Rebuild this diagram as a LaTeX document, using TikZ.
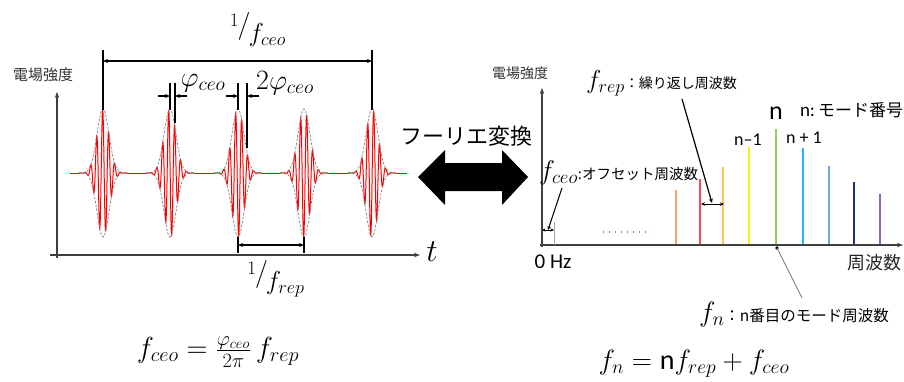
\RequirePackage{fix-cm}
\documentclass[tikz,border=0pt]{standalone}
\usepackage{fontspec}
\setsansfont{Carlito}
\newfontfamily\jp{Noto Sans CJK JP}
\usetikzlibrary{arrows.meta}
\newcommand{\slfrac}[3]{\raisebox{7pt}{\fontsize{19}{19}\selectfont$1$}\hspace{-1pt}{\fontsize{28}{28}\selectfont$/$}\hspace{-2pt}\raisebox{-8pt}{\fontsize{#3}{#3}\selectfont$#2$}}
\begin{document}
\begin{tikzpicture}[x=1pt,y=-1pt,
  dim/.style={line width=1.3pt, draw=black},
  dimarr/.style={dim, {Stealth[length=5pt,width=4pt]}-{Stealth[length=5pt,width=4pt]}},
  onearr/.style={dim, -{Stealth[length=5pt,width=4pt]}},
  axisline/.style={line width=1.4pt, draw=black!75, -{Stealth[length=6pt,width=4.5pt]}},
  comb/.style={line width=1.8pt},
  lbl/.style={inner sep=0pt, outer sep=0pt},
  jptxt/.style={lbl, font=\jp\fontsize{#1}{#1}\selectfont},
  sftxt/.style={lbl, font=\sffamily\fontsize{#1}{#1}\selectfont},
  mtxt/.style={lbl, font=\fontsize{#1}{#1}\selectfont}
]
\useasboundingbox (0,0) rectangle (904,381);

% ---------- left panel: time domain ----------
\coordinate (ly0) at (57,258);
\coordinate (ly1) at (57,92);
\coordinate (lx0) at (50,255);
\coordinate (lx1) at (420,255);
\draw[axisline] (ly0) -- (ly1);
\draw[axisline] (lx0) -- (lx1);
\node[mtxt=32] (tlab) at (432,252) {$t$};
\node[jptxt=15, text=black!80] (efield1) at (43,75) {電場強度};

% baseline of the pulse train
\coordinate (rb0) at (70,173);
\coordinate (rb1) at (407,173);
\draw[red, line width=0.8pt] (rb0) -- (rb1);

\foreach \c/\ph in {103/20,170/80,238/140,304/200,372/260} {
  \pgfmathsetmacro\da{\c-24}
  \pgfmathsetmacro\db{\c+24}
  \fill[white] (\da,171) rectangle (\db,175);
  \draw[red, line width=1pt] plot[domain=\da:\db, samples=260]
     (\x, {173 - 64*exp((0-(\x-\c)*(\x-\c))/72)*cos(360*(\x-\c)/6 + \ph)});
  \draw[gray, dashed, dash pattern=on 2.5pt off 1.5pt, line width=0.7pt] plot[domain=\da:\db, samples=80]
     (\x, {173 - 64*exp((0-(\x-\c)*(\x-\c))/72)});
  \draw[gray, dashed, dash pattern=on 2.5pt off 1.5pt, line width=0.7pt] plot[domain=\da:\db, samples=80]
     (\x, {173 + 64*exp((0-(\x-\c)*(\x-\c))/72)});
}

% 1/f_ceo dimension
\coordinate (c1t) at (103,50);  \coordinate (c1b) at (103,110);
\coordinate (c5t) at (372,50);  \coordinate (c5b) at (372,110);
\coordinate (c1m) at (103,61);  \coordinate (c5m) at (372,61);
\draw[dim] (c1t) -- (c1b);
\draw[dim] (c5t) -- (c5b);
\draw[dimarr] (c1m) -- (c5m);
\node[lbl] (fceolab) at (258,30) {\slfrac{1}{f_{ceo}}{26}};

% phi_ceo
\coordinate (q1t) at (170,83); \coordinate (q1b) at (170,110);
\coordinate (q2t) at (175,83); \coordinate (q2b) at (175,123);
\draw[dim] (q1t) -- (q1b);
\draw[dim] (q2t) -- (q2b);
\coordinate (q1a) at (158,96); \coordinate (q1e) at (170,96);
\coordinate (q2a) at (187,96); \coordinate (q2e) at (175,96);
\draw[onearr] (q1a) -- (q1e);
\draw[onearr] (q2a) -- (q2e);
\node[mtxt=28] (philab) at (203,83) {$\varphi_{ceo}$};

% 2 phi_ceo
\coordinate (r1t) at (238,83); \coordinate (r1b) at (238,110);
\coordinate (r2t) at (247,83); \coordinate (r2b) at (247,148);
\draw[dim] (r1t) -- (r1b);
\draw[dim] (r2t) -- (r2b);
\coordinate (r1a) at (226,96); \coordinate (r1e) at (238,96);
\coordinate (r2a) at (259,96); \coordinate (r2e) at (247,96);
\draw[onearr] (r1a) -- (r1e);
\draw[onearr] (r2a) -- (r2e);
\node[mtxt=28] (phi2lab) at (285,83) {$2\varphi_{ceo}$};

% 1/f_rep
\coordinate (s1t) at (238,237); \coordinate (s1b) at (238,253);
\coordinate (s2t) at (304,237); \coordinate (s2b) at (304,253);
\coordinate (s1m) at (238,245); \coordinate (s2m) at (304,245);
\draw[dim] (s1t) -- (s1b);
\draw[dim] (s2t) -- (s2b);
\draw[dimarr] (s1m) -- (s2m);
\node[lbl] (freplab) at (276,279) {\slfrac{1}{f_{rep}}{26}};

% formula left
\node[mtxt=29] (formL) at (218,352) {$f_{ceo} = \frac{\varphi_{ceo}}{2\pi}\, f_{rep}$};

% ---------- Fourier arrow ----------
\node[jptxt=22] (fourier) at (466,136) {フーリエ変換};
\fill[black] (418,177) -- (445,150) -- (445,163) -- (502,163) -- (502,150) -- (528,177)
  -- (502,205) -- (502,191) -- (445,191) -- (445,205) -- cycle;

% ---------- right panel: frequency domain ----------
\coordinate (ry0) at (542,247);
\coordinate (ry1) at (542,88);
\coordinate (rx0) at (540,245);
\coordinate (rx1) at (903,245);
\draw[axisline, line width=1.2pt] (ry0) -- (ry1);
\draw[axisline, line width=1.2pt] (rx0) -- (rx1);
\node[jptxt=14, text=black!80] (efield2) at (520,73) {電場強度};
\node[sftxt=21] (zerohz) at (553,262) {0 Hz};
\node[jptxt=18, text=black!85] (freqlab) at (874,263) {周波数};

% dotted gap
\coordinate (d0) at (603,232); \coordinate (d1) at (651,232);
\draw[gray, line width=1.4pt, dash pattern=on 1.4pt off 4.6pt] (d0) -- (d1);

% f_ceo tooth and its marker
\coordinate (z0) at (554,245); \coordinate (z1) at (554,222);
\draw[black!35, line width=1pt] (z0) -- (z1);
\coordinate (za) at (542,230); \coordinate (zb) at (554,230);
\draw[line width=0.9pt, {Stealth[length=3.5pt,width=3pt]}-{Stealth[length=3.5pt,width=3pt]}] (za) -- (zb);
\node[lbl, anchor=west] (fceodesc) at (539,173)
  {\fontsize{27}{27}\selectfont$f_{ceo}$\jp\fontsize{14.5}{14.5}\selectfont :オフセット周波数};
\coordinate (zp0) at (562,188); \coordinate (zp1) at (548,230);
\draw[line width=1pt, -{Stealth[length=4pt,width=3.5pt]}] (zp0) -- (zp1);

% comb lines
\foreach \xx/\yy/\col in {676/190/{rgb,255:red,247;green,160;blue,110},
                         700/179/{rgb,255:red,255;green,70;blue,80},
                         723/167/{rgb,255:red,255;green,200;blue,90},
                         749/147/{rgb,255:red,245;green,240;blue,20},
                         776/129/{rgb,255:red,146;green,208;blue,80},
                         803/148/{rgb,255:red,40;green,180;blue,240},
                         829/166/{rgb,255:red,110;green,165;blue,225},
                         854/182/{rgb,255:red,30;green,50;blue,120},
                         880/194/{rgb,255:red,145;green,95;blue,200}} {
  \draw[comb, color=\col] (\xx,244) -- (\xx,\yy);
}

% f_rep marker
\coordinate (ra) at (701,204); \coordinate (rb) at (724,204);
\draw[line width=1pt, {Stealth[length=4pt,width=3.5pt]}-{Stealth[length=4pt,width=3.5pt]}] (ra) -- (rb);
\node[lbl, anchor=west] (frepdesc) at (586,83)
  {\fontsize{26}{26}\selectfont$f_{rep}$\jp\fontsize{14}{14}\selectfont ：繰り返し周波数};
\coordinate (rp0) at (682,99); \coordinate (rp1) at (712,203);
\draw[line width=1.2pt, -{Stealth[length=4.5pt,width=4pt]}] (rp0) -- (rp1);

% mode labels
\node[sftxt=26] (nlab) at (776,113) {n};
\node[sftxt=18] (nm1) at (748,140) {n--1};
\node[sftxt=18] (np1) at (804,138) {n + 1};
\node[lbl, anchor=west] (nmode) at (800,110)
  {\sffamily\fontsize{19}{19}\selectfont n:\,\jp\fontsize{17}{17}\selectfont モード番号};

% f_n pointer
\coordinate (np) at (777,248);
\coordinate (nq) at (802,298);
\fill[black] (np) circle (1.8);
\draw[gray, line width=0.9pt] (np) -- (nq);
\node[lbl, anchor=west] (fndesc) at (699,314)
  {\fontsize{28}{28}\selectfont$f_{n}$\jp\fontsize{15.5}{15.5}\selectfont ：n番目のモード周波数};

% formula right
\node[mtxt=28] (formR) at (694,364) {$f_n = \mbox{\sffamily n}f_{rep} + f_{ceo}$};
\end{tikzpicture}
\end{document}
